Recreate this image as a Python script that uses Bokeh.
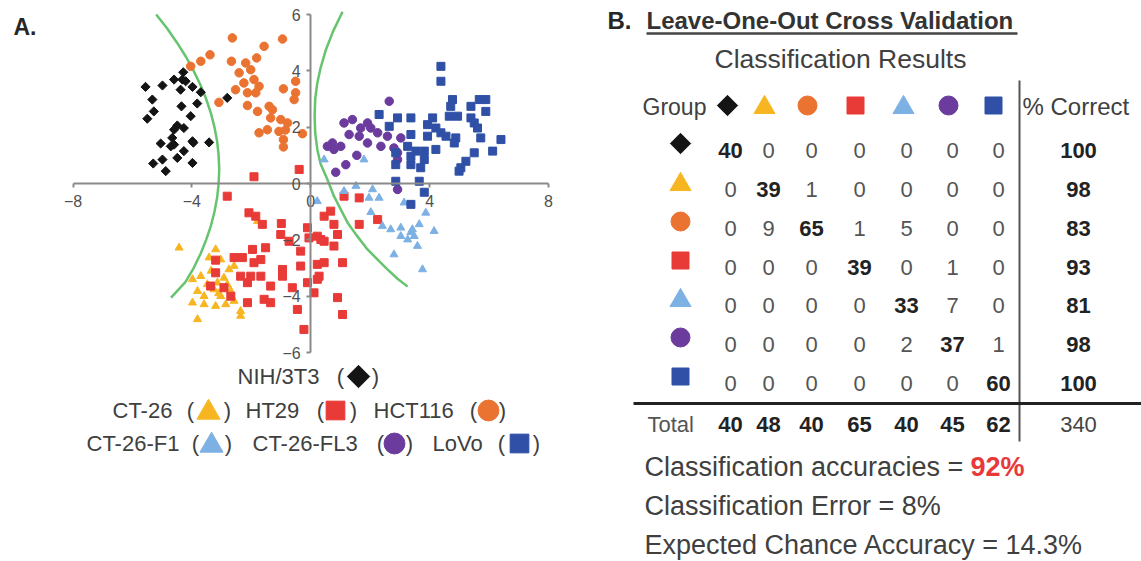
from bokeh.plotting import figure
from bokeh.models import LinearAxis, FixedTicker, Range1d
from bokeh.embed import file_html
from bokeh.resources import INLINE
from bokeh.core.properties import value

# ---------------- data ----------------
group_names = ["NIH/3T3", "CT-26", "HCT116", "HT29", "CT-26-F1", "CT-26-FL3", "LoVo"]
group_colors = ["#141414", "#F7B621", "#EB7331", "#E83A37", "#7DB1E4", "#6B3C9D", "#2F50A6"]
group_markers = ["diamond", "triangle", "circle", "square", "triangle", "circle", "square"]

nih_x = [-4.29, -4.60, -4.32, -4.21, -3.98, -3.70, -4.38, -4.99, -5.56, -5.33, -5.28, -5.50, -4.35, -4.04, -3.82, -2.81,
         -4.49, -4.27, -4.66, -5.05, -4.60, -3.98, -3.42, -4.27, -4.49, -5.30, -4.99, -4.88, -3.98, -4.71, -3.95, -4.60]
nih_y = [3.95, 3.69, 3.69, 3.63, 3.43, 3.24, 3.33, 3.48, 3.43, 2.98, 2.56, 2.30, 2.74, 2.39, 2.84, 3.04,
         2.06, 1.97, 1.62, 1.42, 1.38, 1.50, 1.46, 1.15, 0.91, 0.71, 0.85, 0.44, 0.73, 1.32, 1.45, 1.91]

ct26_x = [-4.43, -3.20, -3.42, -3.03, -2.58, -2.75, -3.98, -3.70, -3.48, -3.14, -2.92, -2.81, -3.81, -3.26, -3.03,
          -3.98, -3.59, -3.20, -2.86, -2.58, -2.36, -2.36, -3.81, -1.79, -3.59, -3.35, -3.10, -2.70]
ct26_y = [-2.28, -2.34, -2.63, -2.70, -2.93, -3.05, -3.40, -3.29, -3.58, -3.52, -3.35, -3.58, -3.82, -3.76, -4.00,
          -4.23, -4.29, -4.35, -4.29, -4.17, -4.53, -4.70, -4.82, -1.34, -4.00, -3.10, -3.90, -3.80]

hct_x = [-2.64, -0.95, -1.57, -3.39, -3.70, -4.04, -2.67, -2.19, -1.82, -2.41, -2.02, -2.25, -1.91, -1.74, -2.53, -2.13,
         -1.85, -0.92, -0.51, -0.51, -0.56, -3.09, -2.13, -1.79, -1.40, -1.29, -1.35, -1.01, -0.78, -1.46, -1.74, -1.07,
         -0.85, -0.28, -0.92, -0.92]
hct_y = [5.17, 5.13, 4.87, 4.57, 4.34, 4.16, 4.34, 4.28, 4.46, 3.93, 4.04, 3.57, 3.69, 3.45, 3.33, 3.22,
         3.22, 3.36, 3.63, 3.22, 2.98, 2.88, 2.77, 2.56, 2.74, 2.62, 2.33, 2.27, 2.15, 1.91, 1.80, 1.85,
         1.90, 1.77, 1.56, 1.30]

ht29_x = [-1.91, -0.39, -2.81, -2.08, -1.85, -1.63, -0.99, -1.01, -0.73, -0.11, -0.06, 0.22, 0.45, -0.34, -1.96, -1.52,
          -2.58, -2.30, -1.68, -1.91, -3.20, -3.20, -2.36, -2.02, -1.68, -2.13, -1.35, -0.95, -0.95, -0.34, 0.22, 0.45,
          0.22, -0.11, 1.07, -3.37, -2.92, -2.69, -2.13, -1.57, -1.35, -0.62, 0.11, -0.45, 0.90, 1.07, -0.23,
          0.67, 1.12, 1.63, 2.25, 1.63, 0.78, 0.45, 0.90, 0.78, 0.34, 0.28]
ht29_y = [0.24, 0.50, -0.45, -1.04, -1.16, -1.45, -1.42, -1.81, -2.05, -1.57, -1.93, -1.87, -2.05, -2.40, -2.34, -2.28,
          -2.63, -2.63, -2.70, -2.81, -2.72, -3.17, -3.29, -3.29, -3.29, -3.52, -3.64, -3.05, -3.29, -2.93, -2.87, -2.81,
          -3.40, -3.52, -2.81, -3.64, -3.70, -4.00, -4.23, -4.11, -4.23, -3.70, -3.88, -4.47, -4.05, -4.65, -5.18,
          -0.98, -0.45, -0.51, -1.28, -1.45, -1.45, -1.16, -1.81, -2.22, -1.99, -3.29]

f1_x = [1.52, 2.08, 2.30, 1.96, 1.12, 0.22, 2.02, 2.41, 2.69, 3.03, 3.42, 3.03, 3.26, 3.48, 3.65, 3.87, 3.14, 4.15,
        3.59, 2.80, 3.76, 3.37, 0.45, 1.79]
f1_y = [-0.09, -0.21, -0.51, -0.51, -0.27, -0.63, -1.02, -1.51, -1.63, -1.57, -1.63, -1.87, -1.99, -1.87, -1.45, -1.04,
        -0.68, -1.69, -2.22, -2.52, -3.05, -1.73, 0.85, 0.85]

fl3_x = [2.64, 1.12, 1.40, 1.91, 2.02, 1.68, 2.25, 1.29, 1.63, 2.58, 3.03, 0.73, 0.56, 1.01, 1.91, 2.36, 2.80, 2.92,
         0.78, 1.18, 0.84, 2.92, 2.92, 1.55]
fl3_y = [2.92, 2.15, 2.27, 2.15, 1.97, 1.97, 1.80, 1.74, 1.68, 1.68, 1.62, 1.44, 1.32, 1.32, 1.44, 1.32, 1.26, 1.09,
         1.21, 0.67, 0.40, -0.21, 0.85, 1.00]

lovo_x = [4.38, 4.38, 4.77, 4.71, 5.39, 5.67, 5.89, 5.89, 2.30, 2.92, 3.37, 4.10, 4.66, 4.94, 5.39, 2.64, 3.93, 4.21,
          5.50, 5.61, 3.37, 3.93, 4.38, 4.55, 4.88, 5.72, 6.40, 3.26, 3.54, 3.82, 4.21, 4.83, 6.12, 5.50, 2.86, 3.37,
          3.82, 2.86, 3.37, 3.70, 5.22, 5.05, 4.99, 2.86, 3.65, 3.82, 3.37]
lovo_y = [4.16, 3.63, 2.98, 2.74, 2.74, 2.98, 2.98, 2.56, 2.45, 2.33, 2.33, 2.33, 2.39, 2.39, 2.33, 2.03, 2.09, 1.97,
          2.15, 1.97, 1.74, 1.68, 1.80, 1.68, 1.62, 1.62, 1.56, 1.32, 1.15, 1.15, 1.21, 1.44, 1.15, 1.09, 1.09, 0.97,
          0.85, 0.67, 0.67, 0.56, 0.79, 0.56, 0.44, 0.08, 0.08, -0.31, -0.74]

group_x = [nih_x, ct26_x, hct_x, ht29_x, f1_x, fl3_x, lovo_x]
group_y = [nih_y, ct26_y, hct_y, ht29_y, f1_y, fl3_y, lovo_y]

# decision boundaries
left_curve_x = [-5.20, -4.83, -4.50, -4.20, -3.94, -3.71, -3.52, -3.36, -3.24, -3.15, -3.10, -3.08, -3.10, -3.15,
                -3.24, -3.36, -3.52, -3.71, -3.94, -4.22, -4.70]
left_curve_y = [6.0, 5.5, 5.0, 4.5, 4.0, 3.5, 3.0, 2.5, 2.0, 1.5, 1.0, 0.5, 0.0, -0.5,
                -1.0, -1.5, -2.0, -2.5, -3.0, -3.5, -4.05]
right_curve_x = [1.07, 0.75, 0.51, 0.33, 0.22, 0.15, 0.13, 0.15, 0.22, 0.33, 0.56, 0.78, 1.00, 1.24, 1.55, 1.91,
                 2.25, 2.58, 2.92, 3.26]
right_curve_y = [6.1, 5.4, 4.75, 4.1, 3.57, 3.0, 2.39, 1.8, 1.21, 0.7, 0.14, -0.45, -0.9, -1.39, -1.85, -2.34,
                 -2.7, -3.05, -3.38, -3.66]

x_ticks = [-8, -4, 0, 4, 8]
y_ticks = [-6, -4, -2, 0, 2, 4, 6]

# confusion matrix (rows: actual group, cols: predicted group)
conf_matrix = [
    [40, 0, 0, 0, 0, 0, 0],
    [0, 39, 1, 0, 0, 0, 0],
    [0, 9, 65, 1, 5, 0, 0],
    [0, 0, 0, 39, 0, 1, 0],
    [0, 0, 0, 0, 33, 7, 0],
    [0, 0, 0, 0, 2, 37, 1],
    [0, 0, 0, 0, 0, 0, 60],
]
pct_correct = [100, 98, 83, 93, 81, 98, 100]
col_totals = [40, 48, 40, 65, 40, 45, 62]
grand_total = 340
summary_lines = ["Classification accuracies = ", "Classification Error = 8%", "Expected Chance Accuracy = 14.3%"]
accuracy_text = "92%"

# ---------------- figure ----------------
W, H = 1141, 561
XS, YS = 29.72, 28.17
X0 = -8 - 72.5 / XS
Y1 = 6 + 14 / YS
p = figure(width=W, height=H, output_backend="svg", toolbar_location=None,
           x_range=Range1d(X0, X0 + W / XS), y_range=Range1d(Y1 - H / YS, Y1),
           x_axis_type=None, y_axis_type=None, min_border=0, tools="")
p.outline_line_color = None
p.grid.visible = False
p.background_fill_color = "white"
p.border_fill_color = "white"
# pixel-coordinate ranges (picture pixels) for the layout of texts and the table
p.extra_x_ranges = {"px": Range1d(0, W)}
p.extra_y_ranges = {"py": Range1d(H, 0)}
PX = dict(x_range_name="px", y_range_name="py")
FONT = value("Liberation Sans")

# axes crossing at the origin
xaxis = LinearAxis(fixed_location=0, bounds=(-8, 8), ticker=FixedTicker(ticks=x_ticks))
yaxis = LinearAxis(fixed_location=0, bounds=(-6, 6), ticker=FixedTicker(ticks=y_ticks))
for ax in (xaxis, yaxis):
    ax.axis_line_color = "#8a8a8a"
    ax.axis_line_width = 2
    ax.major_tick_line_color = "#8a8a8a"
    ax.major_tick_line_width = 2
    ax.major_tick_out = 4
    ax.major_tick_in = 0
    ax.minor_tick_line_color = None
    ax.major_label_text_font = "Liberation Sans"
    ax.major_label_text_font_size = "16px"
    ax.major_label_text_color = "#505050"
xaxis.major_label_standoff = 7
yaxis.major_label_standoff = 6
p.add_layout(xaxis, "below")
p.add_layout(yaxis, "left")

# curves
p.line(left_curve_x, left_curve_y, line_color="#66C46E", line_width=2.5)
p.line(right_curve_x, right_curve_y, line_color="#66C46E", line_width=2.5)

# scatter groups
for gx, gy, col, mk in zip(group_x, group_y, group_colors, group_markers):
    if mk == "diamond":
        p.scatter(gx, gy, marker="square", angle=0.785398, size=6.5, color=col)
    elif mk == "triangle":
        p.scatter(gx, gy, marker="triangle", size=8, color=col)
    elif mk == "circle":
        p.scatter(gx, gy, marker="circle", size=8.5, color=col)
    else:
        p.scatter(gx, gy, marker="square", size=8, color=col)


def marker(x, y, gi, big):
    mk = group_markers[gi]
    col = group_colors[gi]
    if mk == "diamond":
        p.scatter([x], [y], marker="square", angle=0.785398, size=big * 0.72, color=col, **PX)
    elif mk == "triangle":
        p.scatter([x], [y + 2], marker="triangle", size=big * 1.05, color=col, **PX)
    elif mk == "circle":
        p.scatter([x], [y], marker="circle", size=big * 0.95, color=col, **PX)
    else:
        p.scatter([x], [y], marker="square", size=big * 0.85, color=col, **PX)


def txt(x, y, s, size, color="#404040", align="left", bold=False):
    p.text([x], [y], text=[s], text_font=FONT, text_font_size=size, text_color=color,
           text_align=align, text_baseline="middle", text_font_style="bold" if bold else "normal", **PX)


# panel A label
txt(13, 26, "A.", "23px", color="#262626", bold=True)

# legend of panel A
LEG = "22px"
legend_rows = [
    [(0, 237, 340, 358, 375)],
    [(1, 112, 190, 208, 227), (3, 245, 320, 335, 353), (2, 373, 473, 488, 502)],
    [(4, 86, 195, 211, 228), (5, 252, 380, 394, 409), (6, 432, 501, 519, 536)],
]
legend_y = [376, 410, 443]
for row, ly in zip(legend_rows, legend_y):
    for gi, tx, lp, mx, rp in row:
        txt(tx, ly, group_names[gi], LEG)
        txt(lp, ly, "(", LEG, align="center")
        txt(rp, ly, ")", LEG, align="center")
        marker(mx, ly, gi, 22)

# ---------------- panel B ----------------
txt(607, 20, "B.", "24px", color="#262626", bold=True)
txt(646, 20, "Leave-One-Out Cross Validation", "24px", color="#333333", bold=True)
p.segment([646], [33], [1017], [33], line_color="#444444", line_width=2.5, **PX)
txt(840, 58, "Classification Results", "26.5px", align="center")

col_x = [730, 768, 811, 859, 906, 952, 998]
hdr_x = [727, 764, 807, 855, 903, 948, 993]
row_y = [150, 189, 228, 267, 305, 344, 383]
pct_x = 1078
TAB = "22px"

txt(642, 106, "Group", "23px")
for j in range(7):
    marker(hdr_x[j], 105, j, 20)
txt(1022, 106, "% Correct", "24px")

for i in range(7):
    marker(680, row_y[i] - 7, i, 20)
    for j in range(7):
        v = conf_matrix[i][j]
        txt(col_x[j], row_y[i], str(v), TAB, color="#222222" if i == j else "#555555",
            align="center", bold=(i == j))
    txt(pct_x, row_y[i], str(pct_correct[i]), TAB, color="#222222", align="center", bold=True)

# lines of the table
p.segment([1019], [80], [1019], [441], line_color="#555555", line_width=2, **PX)
p.segment([633], [403], [1141], [403], line_color="#222222", line_width=3, **PX)

txt(647, 424, "Total", TAB, color="#555555")
for j in range(7):
    txt(col_x[j], 424, str(col_totals[j]), TAB, color="#222222", align="center", bold=True)
txt(pct_x, 424, str(grand_total), TAB, color="#444444", align="center")

# summary lines
sum_y = [466, 505, 544]
for s, sy in zip(summary_lines, sum_y):
    txt(644, sy, s, "27px")
txt(970, 466, accuracy_text, "27px", color="#E8383A", bold=True)

open("out.html", "w").write(file_html(p, INLINE))
